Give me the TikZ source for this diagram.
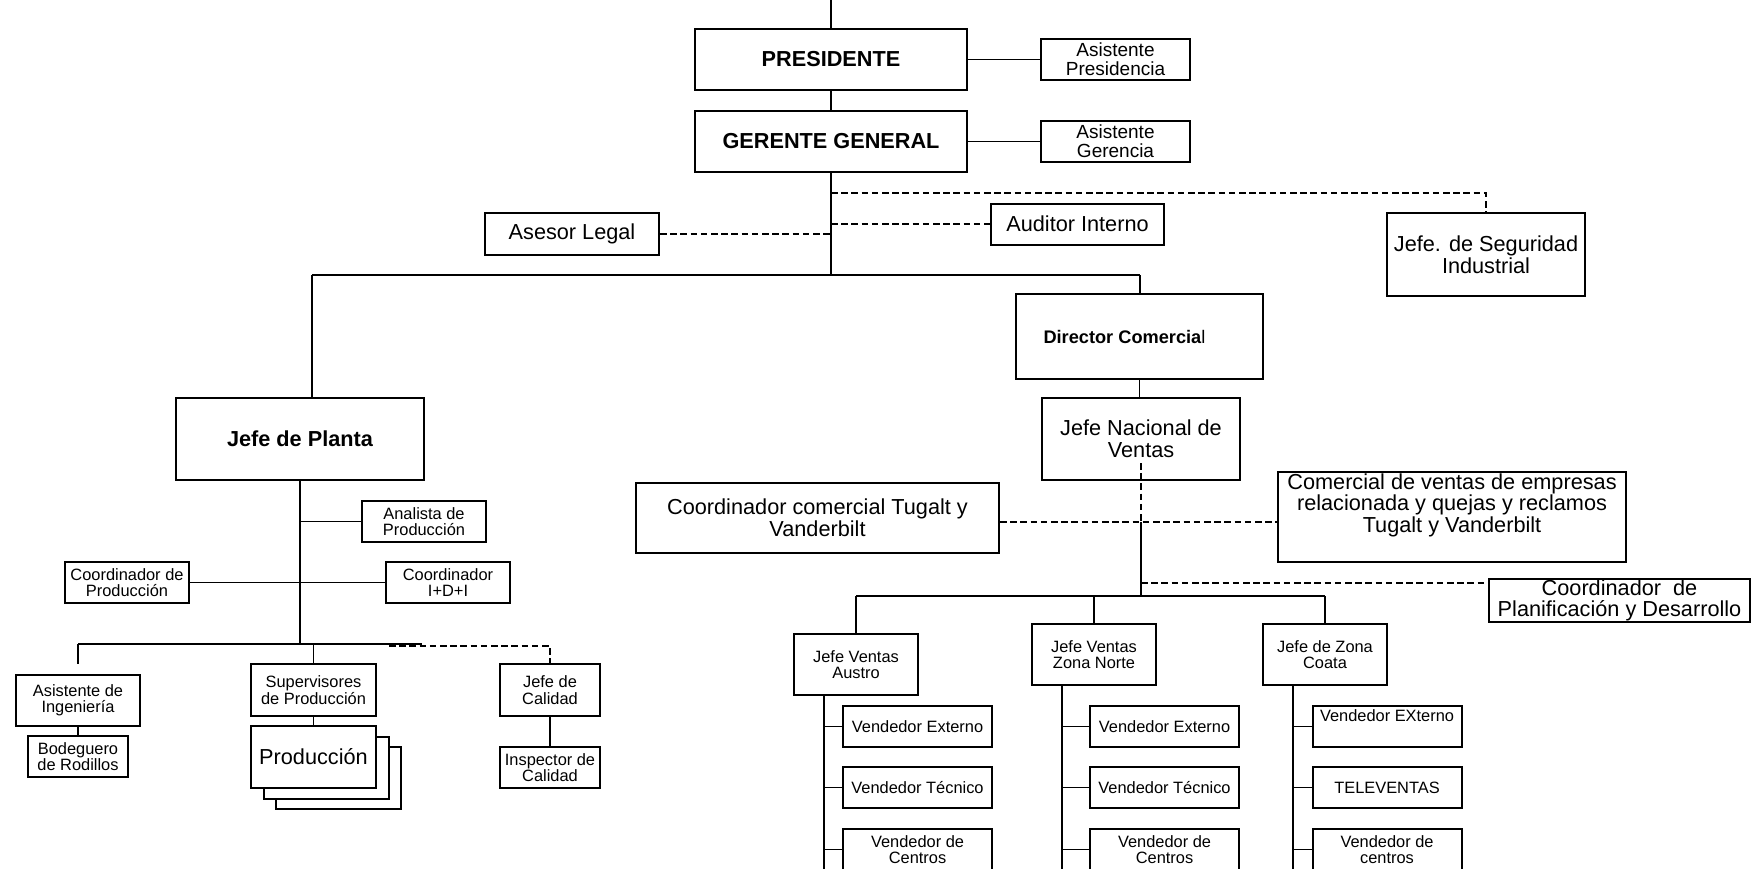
\documentclass[tikz,border=0pt]{standalone}
\usepackage{fontspec}
\setmainfont{Liberation Sans}
\usetikzlibrary{calc}
\begin{document}
\begin{tikzpicture}[x=0.5pt,y=-0.5pt,
  box/.style={draw, line width=1pt, inner sep=0pt, align=center, fill=white},
  wh/.style 2 args={minimum width=#1*0.5pt, minimum height=#2*0.5pt},
  sm/.style={font=\fontsize{8.2pt}{8.2pt}\selectfont},
  md/.style={font=\fontsize{9.5pt}{9.5pt}\selectfont},
  dc/.style={font=\fontsize{9.1pt}{9.1pt}\selectfont},
  lg/.style={font=\fontsize{10.85pt}{10.85pt}\selectfont},
  ttl/.style={font=\fontsize{10.85pt}{10.85pt}\selectfont\bfseries},
  conn/.style={line width=0.6pt},
  trunk/.style={line width=0.9pt},
  dash line/.style={line width=0.75pt, dash pattern=on 3.3pt off 1.8pt}]
\useasboundingbox (0,0) rectangle (1764,868);
\clip (0,0) rectangle (1764,868);

% ---- direction ----
\node[box,wh={272}{61},ttl] (pres) at (831,59.5) {PRESIDENTE};
\node[box,wh={149}{41},md] (asp) at (1115.5,59.5) {Asistente\\Presidencia};
\node[box,wh={272}{61},ttl] (ger) at (831,141.5) {GERENTE GENERAL};
\node[box,wh={149}{41},md] (asg) at (1115.5,141.5) {Asistente\\Gerencia};
\node[box,wh={174}{42},lg] (legal) at (572,234) {Asesor Legal};
\node[box,wh={173}{41},lg] (audit) at (1077.5,224) {Auditor Interno};
\node[box,wh={198}{83},lg] (seg) at (1486,254.5) {Jefe. de Seguridad\\Industrial};

% ---- plant ----
\node[box,wh={248}{82},ttl] (planta) at (300,439) {Jefe de Planta};
\node[box,wh={124}{41},sm] (analista) at (424,521.5) {Analista de\\Producción};
\node[box,wh={124}{41},sm] (cprod) at (127,582.5) {Coordinador de\\Producción};
\node[box,wh={124}{41},sm] (idi) at (448,582.5) {Coordinador\\I+D+I};
\node[box,wh={124}{51},sm] (asing) at (78,700.5) {Asistente de\\Ingeniería};
\node[box,wh={100}{41},sm] (bodeg) at (78,756.5) {Bodeguero\\de Rodillos};
\node[box,wh={125}{52},sm] (superv) at (313.5,690) {Supervisores\\de Producción};
\node[box,wh={125}{62}] (prod3) at (338.5,778) {};
\node[box,wh={125}{62}] (prod2) at (326,767.5) {};
\node[box,wh={125}{62},lg] (prod) at (313.5,757) {Producción};
\node[box,wh={100}{52},sm] (jcal) at (550,690) {Jefe de\\Calidad};
\node[box,wh={100}{41},sm] (insp) at (550,767.5) {Inspector de\\Calidad};

% ---- sales ----
\node[box,wh={247}{85},dc] (dircom) at (1139.5,336.5) {\textbf{Director Comercia}l\hspace*{15pt}};
\node[box,wh={198}{82},lg] (jnv) at (1141,439) {Jefe Nacional de\\Ventas};
\node[box,wh={363}{70},lg] (coordcom) at (817.5,518) {Coordinador comercial Tugalt y\\Vanderbilt};
\node[box,wh={348}{90},lg] (comven) at (1452,517) {Comercial de ventas de empresas\\relacionada y quejas y reclamos\\Tugalt y Vanderbilt\\ \strut};
\node[box,wh={261}{43},lg] (plan) at (1619.5,600.5) {Coordinador\ \ de\\Planificación y Desarrollo};
\node[box,wh={124}{61},sm] (austro) at (856,664.5) {Jefe Ventas\\Austro};
\node[box,wh={124}{61},sm] (norte) at (1094,654.5) {Jefe Ventas\\Zona Norte};
\node[box,wh={124}{61},sm] (coata) at (1325,654.5) {Jefe de Zona\\Coata};
\node[box,wh={149}{41},sm] (a1) at (917.5,726.5) {Vendedor Externo};
\node[box,wh={149}{41},sm] (a2) at (917.5,787.5) {Vendedor Técnico};
\node[box,wh={149}{41},sm] (a3) at (917.5,849.5) {Vendedor de\\Centros};
\node[box,wh={149}{41},sm] (n1) at (1164.5,726.5) {Vendedor Externo};
\node[box,wh={149}{41},sm] (n2) at (1164.5,787.5) {Vendedor Técnico};
\node[box,wh={149}{41},sm] (n3) at (1164.5,849.5) {Vendedor de\\Centros};
\node[box,wh={149}{41},sm] (c1) at (1387,726.5) {Vendedor EXterno\\ \strut};
\node[box,wh={149}{41},sm] (c2) at (1387,787.5) {TELEVENTAS};
\node[box,wh={149}{41},sm] (c3) at (1387,849.5) {Vendedor de\\centros};

% ---- junction points ----
\coordinate (topend) at (831,0);
\coordinate (gtrunk) at (831,275);
\coordinate (hl) at (312,275);
\coordinate (hr) at (1140,275);
\coordinate (sg) at (831,193);
\coordinate (jin) at (1141,463);
\coordinate (jt) at (1141,522);
\coordinate (jp) at (1141,583);
\coordinate (jb) at (1141,596);
\coordinate (pb) at (300,644);
\coordinate (ll) at (78,644);
\coordinate (lr) at (422,644);
\coordinate (asingT) at (78,664);
\coordinate (qd) at (389,646);
\coordinate (at) at ($(austro.south west)+(31,0)$);
\coordinate (nt) at ($(norte.south west)+(31,0)$);
\coordinate (ct) at ($(coata.south west)+(31,0)$);

% ---- top connectors ----
\draw[conn] (topend) -- (pres.north);
\draw[conn] (pres.south) -- (ger.north);
\draw[conn] (pres.east) -- (asp.west);
\draw[conn] (ger.east) -- (asg.west);
\draw[trunk] (ger.south) -- (gtrunk);
\draw[conn] (hl) -- (hr);
\draw[conn] (hl) -- (hl |- planta.north);
\draw[conn] (hr) -- (hr |- dircom.north);
\draw[dash line] (sg) -| (seg.north);
\draw[dash line] (audit.west -| ger.south) -- (audit.west);
\draw[dash line] (legal.east) -- (legal.east -| ger.south);

% ---- plant connectors ----
\draw[trunk] (planta.south) -- (pb);
\draw[conn] (analista.west -| pb) -- (analista.west);
\draw[conn] (cprod.east) -- (idi.west);
\draw[conn] (ll) -- (lr);
\draw[conn] (ll) -- (asingT);
\draw[conn] (superv.north |- ll) -- (superv.north);
\draw[dash line] (qd) -| (jcal.north);
\draw[conn] (asing.south) -- (bodeg.north);
\draw[conn] (superv.south) -- (prod.north);
\draw[conn] (jcal.south) -- (insp.north);

% ---- sales connectors ----
\draw[conn] (dircom.south) -- (dircom.south |- jnv.north);
\draw[dash line] (jin) -- (jt);
\draw[trunk] (jt) -- (jb);
\draw[dash line] (jt -| coordcom.east) -- (jt -| comven.west);
\draw[dash line] (jp) -- (jp -| plan.west);
\draw[conn] (jb -| austro.north) -- (jb -| coata.north);
\draw[conn] (jb -| austro.north) -- (austro.north);
\draw[conn] (jb -| norte.north) -- (norte.north);
\draw[conn] (jb -| coata.north) -- (coata.north);
\foreach \t/\a/\b/\c in {at/a1/a2/a3, nt/n1/n2/n3, ct/c1/c2/c3}{
  \draw[trunk] (\t) -- ++(0,190);
  \draw[conn] (\a.west -| \t) -- (\a.west);
  \draw[conn] (\b.west -| \t) -- (\b.west);
  \draw[conn] (\c.west -| \t) -- (\c.west);
}
\end{tikzpicture}
\end{document}
